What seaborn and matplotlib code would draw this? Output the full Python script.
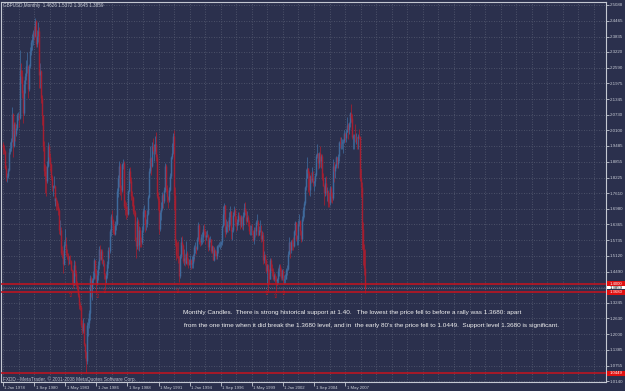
import numpy as np
import pandas as pd
import matplotlib
matplotlib.use("Agg")
import matplotlib.pyplot as plt
import matplotlib.transforms as mtrans
from matplotlib.patches import Rectangle
import seaborn as sns

# ---------------- data ----------------
title_text = "GBPUSD,Monthly  1.4626 1.5372 1.3645 1.3859"
first_open = 1.9550

close = [
    1.9400, 1.9300, 1.8620, 1.8250, 1.8280, 1.8540, 1.9250, 1.9420, 1.9700, 2.0750, 1.9500, 2.0350,
    1.9950, 2.0200, 2.0700, 2.0700, 2.0600, 2.1900, 2.2500, 2.2250, 2.1600, 2.0800, 2.1950, 2.2250,
    2.2650, 2.2650, 2.1750, 2.2650, 2.3250, 2.3600, 2.3750, 2.4000, 2.3850, 2.4450, 2.3550, 2.3850,
    2.4050, 2.2300, 2.2450, 2.1400, 2.0700, 1.9500, 1.8500, 1.8300, 1.8100, 1.8700, 1.9500, 1.9050,
    1.8750, 1.8250, 1.7850, 1.7900, 1.7900, 1.7300, 1.7400, 1.7300, 1.7100, 1.6950, 1.6150, 1.6150,
    1.5250, 1.5200, 1.4800, 1.5550, 1.5600, 1.5250, 1.5150, 1.4950, 1.4950, 1.4900, 1.4550, 1.4500,
    1.3950, 1.4750, 1.4450, 1.3950, 1.3850, 1.3550, 1.3150, 1.3100, 1.2350, 1.2150, 1.2450, 1.1600,
    1.1300, 1.0950, 1.2350, 1.2450, 1.2850, 1.2850, 1.4250, 1.3850, 1.4150, 1.4250, 1.4950, 1.4450,
    1.3990, 1.4350, 1.4750, 1.5400, 1.5000, 1.5300, 1.4850, 1.4850, 1.4400, 1.4200, 1.4350, 1.4800,
    1.5350, 1.5300, 1.6100, 1.6700, 1.6550, 1.6050, 1.6000, 1.6350, 1.6400, 1.7700, 1.8200, 1.8700,
    1.7800, 1.7750, 1.8750, 1.8800, 1.8550, 1.7100, 1.7050, 1.6900, 1.6800, 1.7700, 1.8500, 1.8100,
    1.7500, 1.7450, 1.6900, 1.6850, 1.5750, 1.5500, 1.6500, 1.5550, 1.6150, 1.5800, 1.5650, 1.6150,
    1.6900, 1.6950, 1.6400, 1.6400, 1.6800, 1.7450, 1.8500, 1.9000, 1.8700, 1.9500, 1.9300, 1.9300,
    1.9550, 1.9050, 1.7500, 1.7350, 1.7150, 1.6200, 1.6850, 1.7000, 1.7550, 1.7300, 1.7750, 1.8700,
    1.7800, 1.7450, 1.7350, 1.7750, 1.8300, 1.9050, 1.9200, 1.9900, 1.7550, 1.5750, 1.5150, 1.5130,
    1.5050, 1.4300, 1.5100, 1.5650, 1.5550, 1.4900, 1.5050, 1.4850, 1.5250, 1.4900, 1.4800, 1.4800,
    1.4950, 1.4800, 1.4850, 1.5150, 1.5100, 1.5450, 1.5450, 1.5400, 1.5800, 1.6350, 1.5700, 1.5650,
    1.5850, 1.5850, 1.6200, 1.6100, 1.5850, 1.5950, 1.5950, 1.5450, 1.5800, 1.5800, 1.5300, 1.5500,
    1.4950, 1.5350, 1.5250, 1.5100, 1.5500, 1.5500, 1.5550, 1.5600, 1.5650, 1.6300, 1.6800, 1.7150,
    1.6050, 1.6300, 1.6400, 1.6250, 1.6400, 1.6650, 1.6900, 1.6100, 1.6150, 1.6750, 1.6950, 1.6450,
    1.6350, 1.6450, 1.6750, 1.6700, 1.6350, 1.6650, 1.6350, 1.6750, 1.7000, 1.6850, 1.6500, 1.6650,
    1.6450, 1.6100, 1.6100, 1.6100, 1.6050, 1.5750, 1.6150, 1.6100, 1.6450, 1.6450, 1.5950, 1.6150,
    1.6150, 1.5800, 1.5950, 1.5600, 1.4950, 1.5150, 1.4950, 1.4500, 1.4750, 1.4500, 1.4200, 1.4950,
    1.4650, 1.4500, 1.4200, 1.4350, 1.4150, 1.4100, 1.4200, 1.4500, 1.4700, 1.4500, 1.4250, 1.4550,
    1.4150, 1.4200, 1.4200, 1.4550, 1.4600, 1.5200, 1.5650, 1.5350, 1.5700, 1.5650, 1.5500, 1.6100,
    1.6450, 1.5800, 1.5800, 1.5950, 1.6400, 1.6500, 1.6100, 1.5800, 1.6600, 1.6950, 1.7200, 1.7850,
    1.8200, 1.8600, 1.8400, 1.7750, 1.8300, 1.8150, 1.8200, 1.8000, 1.8100, 1.8350, 1.9100, 1.9200,
    1.8800, 1.9200, 1.8900, 1.9100, 1.8200, 1.7900, 1.7600, 1.8000, 1.7650, 1.7700, 1.7250, 1.7200,
    1.7800, 1.7500, 1.7400, 1.8250, 1.8700, 1.8500, 1.8700, 1.9050, 1.8750, 1.9100, 1.9650, 1.9600,
    1.9600, 1.9650, 1.9700, 1.9990, 1.9800, 2.0050, 2.0300, 2.0100, 2.0400, 2.0800, 2.0600, 1.9850,
    1.9900, 1.9900, 1.9850, 1.9850, 1.9800, 1.9900, 1.9850, 1.8200, 1.7850, 1.6200, 1.5350, 1.4626,
    1.3859,
]

high = [
    1.9650, 1.9520, 1.9340, 1.8720, 1.8400, 1.8600, 1.9400, 1.9650, 1.9820, 2.1050, 2.0800, 2.0450,
    2.0450, 2.0350, 2.0800, 2.0850, 2.0800, 2.2000, 2.3300, 2.2800, 2.2500, 2.1700, 2.2100, 2.2400,
    2.2900, 2.3200, 2.2700, 2.2750, 2.3400, 2.3700, 2.3950, 2.4100, 2.4250, 2.4565, 2.4500, 2.4100,
    2.4400, 2.4200, 2.2800, 2.2500, 2.1500, 2.0700, 1.9700, 1.8750, 1.8700, 1.8900, 1.9650, 1.9550,
    1.9200, 1.8800, 1.8350, 1.7950, 1.8300, 1.7950, 1.7500, 1.7450, 1.7350, 1.7200, 1.7000, 1.6550,
    1.6250, 1.5500, 1.5350, 1.5700, 1.6200, 1.5850, 1.5400, 1.5250, 1.5100, 1.5150, 1.4950, 1.4600,
    1.4550, 1.4950, 1.4900, 1.4550, 1.4100, 1.3950, 1.3650, 1.3300, 1.3150, 1.2550, 1.2650, 1.2450,
    1.1650, 1.1350, 1.2500, 1.2650, 1.2950, 1.3050, 1.4350, 1.4300, 1.4250, 1.4500, 1.5050, 1.4950,
    1.4600, 1.4550, 1.4900, 1.5500, 1.5550, 1.5400, 1.5400, 1.5000, 1.4950, 1.4450, 1.4500, 1.4900,
    1.5450, 1.5450, 1.6200, 1.6800, 1.6950, 1.6600, 1.6350, 1.6500, 1.6750, 1.7800, 1.8350, 1.8900,
    1.8800, 1.7950, 1.8800, 1.8950, 1.8900, 1.8600, 1.7350, 1.7250, 1.7100, 1.7750, 1.8600, 1.8650,
    1.8250, 1.7700, 1.7500, 1.7150, 1.6950, 1.5850, 1.6650, 1.6600, 1.6300, 1.6250, 1.5850, 1.6300,
    1.7000, 1.7150, 1.6950, 1.6600, 1.6950, 1.7550, 1.8600, 1.9500, 1.9050, 1.9650, 1.9800, 1.9550,
    1.9900, 2.0050, 1.9150, 1.7650, 1.7450, 1.7200, 1.6950, 1.7250, 1.7650, 1.7600, 1.7850, 1.8800,
    1.8750, 1.7950, 1.7500, 1.7850, 1.8400, 1.9100, 1.9600, 2.0000, 2.0100, 1.7850, 1.5800, 1.5650,
    1.5700, 1.5100, 1.5200, 1.5850, 1.5900, 1.5600, 1.5400, 1.5200, 1.5700, 1.5300, 1.5050, 1.5000,
    1.5150, 1.5000, 1.5100, 1.5200, 1.5250, 1.5550, 1.5650, 1.5500, 1.5850, 1.6450, 1.6400, 1.5800,
    1.6000, 1.6050, 1.6350, 1.6400, 1.6150, 1.6100, 1.6150, 1.6000, 1.5850, 1.5900, 1.5800, 1.5550,
    1.5500, 1.5450, 1.5400, 1.5300, 1.5550, 1.5600, 1.5650, 1.5700, 1.5700, 1.6350, 1.7100, 1.7200,
    1.7150, 1.6600, 1.6500, 1.6550, 1.6650, 1.6850, 1.7100, 1.6900, 1.6250, 1.6850, 1.7100, 1.7000,
    1.6700, 1.6600, 1.6850, 1.6850, 1.6750, 1.6750, 1.6700, 1.6850, 1.7200, 1.7250, 1.6950, 1.6900,
    1.6750, 1.6550, 1.6350, 1.6350, 1.6400, 1.6150, 1.6250, 1.6250, 1.6550, 1.6800, 1.6550, 1.6300,
    1.6550, 1.6350, 1.6100, 1.6050, 1.5650, 1.5300, 1.5200, 1.5000, 1.4800, 1.4800, 1.4600, 1.5050,
    1.5050, 1.4800, 1.4650, 1.4450, 1.4450, 1.4300, 1.4250, 1.4650, 1.4800, 1.4800, 1.4650, 1.4600,
    1.4550, 1.4350, 1.4400, 1.4650, 1.4750, 1.5300, 1.5850, 1.5650, 1.5750, 1.5800, 1.5850, 1.6150,
    1.6500, 1.6450, 1.5950, 1.6050, 1.6550, 1.6800, 1.6550, 1.6150, 1.6700, 1.7050, 1.7300, 1.7900,
    1.8550, 1.9050, 1.8600, 1.8500, 1.8350, 1.8450, 1.8650, 1.8500, 1.8150, 1.8400, 1.9150, 1.9550,
    1.9200, 1.9250, 1.9500, 1.9150, 1.9150, 1.8400, 1.7950, 1.8250, 1.8300, 1.7850, 1.7750, 1.7600,
    1.7900, 1.7900, 1.7650, 1.8300, 1.8950, 1.8850, 1.8750, 1.9100, 1.9050, 1.9150, 1.9700, 1.9850,
    1.9850, 1.9750, 1.9750, 2.0100, 2.0000, 2.0150, 2.0650, 2.0400, 2.0450, 2.0850, 2.1150, 2.0750,
    1.9950, 1.9950, 2.0350, 2.0000, 1.9850, 1.9950, 2.0150, 1.9900, 1.8550, 1.8050, 1.6450, 1.5600,
    1.5372,
]

low = [
    1.9150, 1.9180, 1.8550, 1.8080, 1.8050, 1.8200, 1.8500, 1.9150, 1.9300, 1.9650, 1.9050, 1.9450,
    1.9700, 1.9900, 2.0100, 2.0500, 2.0250, 2.0550, 2.1850, 2.2000, 2.1400, 2.0400, 2.0700, 2.1600,
    2.2100, 2.2400, 2.1400, 2.1650, 2.2600, 2.3100, 2.3300, 2.3500, 2.3700, 2.3800, 2.3400, 2.3400,
    2.3600, 2.1800, 2.1800, 2.1200, 2.0300, 1.9300, 1.8300, 1.7600, 1.7500, 1.8000, 1.8650, 1.8800,
    1.8500, 1.8150, 1.7700, 1.7500, 1.7800, 1.7150, 1.7100, 1.6950, 1.6950, 1.6750, 1.6000, 1.5950,
    1.5150, 1.5050, 1.4450, 1.4750, 1.5500, 1.5100, 1.5000, 1.4750, 1.4800, 1.4800, 1.4500, 1.4050,
    1.3850, 1.3950, 1.4300, 1.3900, 1.3750, 1.3500, 1.3000, 1.2950, 1.2300, 1.2000, 1.2050, 1.1550,
    1.1050, 1.0449, 1.0800, 1.1950, 1.2250, 1.2550, 1.2800, 1.3500, 1.3350, 1.4000, 1.4200, 1.4200,
    1.3650, 1.3950, 1.4150, 1.4600, 1.4950, 1.4950, 1.4800, 1.4700, 1.4200, 1.3800, 1.4050, 1.4250,
    1.4650, 1.5050, 1.5250, 1.5900, 1.6350, 1.6000, 1.5950, 1.5950, 1.6150, 1.6350, 1.7450, 1.7850,
    1.7550, 1.7350, 1.7650, 1.8550, 1.8200, 1.7000, 1.6750, 1.6600, 1.6650, 1.6750, 1.7650, 1.8000,
    1.7350, 1.7100, 1.6800, 1.6700, 1.5700, 1.5050, 1.5400, 1.5350, 1.5300, 1.5450, 1.5450, 1.5600,
    1.6050, 1.6650, 1.6050, 1.6150, 1.6250, 1.6750, 1.7400, 1.8400, 1.8350, 1.8650, 1.9150, 1.8900,
    1.9150, 1.8900, 1.7400, 1.6950, 1.6950, 1.6000, 1.6100, 1.6550, 1.6950, 1.7000, 1.7200, 1.7650,
    1.7650, 1.7250, 1.7000, 1.7250, 1.7700, 1.8200, 1.8950, 1.9150, 1.6950, 1.5500, 1.4950, 1.5050,
    1.4850, 1.4080, 1.4250, 1.5050, 1.5200, 1.4850, 1.4750, 1.4700, 1.4800, 1.4750, 1.4650, 1.4750,
    1.4650, 1.4600, 1.4650, 1.4650, 1.4900, 1.5000, 1.5250, 1.5200, 1.5350, 1.5700, 1.5600, 1.5500,
    1.5550, 1.5600, 1.5650, 1.5950, 1.5600, 1.5750, 1.5850, 1.5300, 1.5350, 1.5650, 1.5250, 1.5250,
    1.4950, 1.4900, 1.5100, 1.5000, 1.5000, 1.5250, 1.5450, 1.5400, 1.5450, 1.5550, 1.6250, 1.6350,
    1.5850, 1.6000, 1.6050, 1.6050, 1.6150, 1.6150, 1.6350, 1.5800, 1.5750, 1.6050, 1.6700, 1.6300,
    1.6100, 1.6150, 1.6350, 1.6500, 1.6200, 1.6250, 1.6200, 1.6150, 1.6650, 1.6750, 1.6400, 1.6450,
    1.6300, 1.6000, 1.5950, 1.5950, 1.5950, 1.5700, 1.5600, 1.5850, 1.5950, 1.6350, 1.5900, 1.5950,
    1.6050, 1.5650, 1.5700, 1.5500, 1.4800, 1.4850, 1.4750, 1.4450, 1.3950, 1.3680, 1.3980, 1.4200,
    1.4500, 1.4300, 1.4150, 1.4100, 1.4050, 1.3686, 1.3950, 1.4050, 1.4300, 1.4300, 1.4150, 1.4150,
    1.4050, 1.4000, 1.4050, 1.4200, 1.4350, 1.4550, 1.5150, 1.5050, 1.5250, 1.5350, 1.5350, 1.5450,
    1.5950, 1.5700, 1.5550, 1.5550, 1.5900, 1.6300, 1.5950, 1.5650, 1.5700, 1.6500, 1.6650, 1.7150,
    1.7750, 1.8200, 1.7650, 1.7550, 1.7500, 1.8000, 1.8050, 1.7900, 1.7700, 1.7900, 1.8300, 1.9000,
    1.8550, 1.8600, 1.8650, 1.8600, 1.8150, 1.7900, 1.7150, 1.7500, 1.7550, 1.7300, 1.7050, 1.7050,
    1.7150, 1.7250, 1.7200, 1.7350, 1.8150, 1.8050, 1.8200, 1.8600, 1.8600, 1.8600, 1.8900, 1.9400,
    1.9350, 1.9350, 1.9200, 1.9600, 1.9650, 1.9650, 2.0050, 1.9750, 1.9950, 2.0250, 2.0450, 1.9750,
    1.9350, 1.9350, 1.9650, 1.9550, 1.9350, 1.9350, 1.9750, 1.8100, 1.7450, 1.5400, 1.4750, 1.4350,
    1.3645,
]

support_levels = [1.4000, 1.3680]
crash_low_level = 1.0449
bid_price = 1.3859

price_ticks = [2.5088, 2.4465, 2.3835, 2.3220, 2.2590, 2.1975, 2.1345, 2.0730, 2.0100,
               1.9485, 1.8855, 1.8225, 1.7610, 1.6980, 1.6365, 1.5735, 1.5120, 1.4490,
               1.3875, 1.3245, 1.2630, 1.2000, 1.1385, 1.0755, 1.0140]
price_tick_labels = ["2.5088", "2.4465", "2.3835", "2.3220", "2.2590", "2.1975", "2.1345",
                     "2.0730", "2.0100", "1.9485", "1.8855", "1.8225", "1.7610", "1.6980",
                     "1.6365", "1.5735", "1.5120", "1.4490", "", "1.3245", "1.2630",
                     "1.2000", "1.1385", "1.0755", "1.0140"]

date_labels = ["1 Jan 1978", "1 Sep 1980", "1 May 1983", "1 Jan 1986", "1 Sep 1988",
               "1 May 1991", "1 Jan 1994", "1 Sep 1996", "1 May 1999", "1 Jan 2002",
               "1 Sep 2004", "1 May 2007"]
date_label_bars = [0, 32, 64, 96, 128, 160, 192, 224, 256, 288, 320, 352]
grid_bars = list(range(0, 621, 16))

arrow_bars = [70, 97, 105, 180, 271, 280, 289]
arrow_prices = [1.356, 1.349, 1.369, 1.369, 1.363, 1.349, 1.363]

note_line1 = ("Monthly Candles.  There is strong historical support at 1.40.   "
              "The lowest the price fell to before a rally was 1.3680: apart")
note_line2 = ("from the one time when it did break the 1.3680 level, and in  the early 80's "
              "the price fell to 1.0449.  Support level 1.3680 is significant.")
footer_text = "FXDD - MetaTrader, \u00a9 2001-2008 MetaQuotes Software Corp."

# ---------------- style ----------------
BG = "#2B304D"
GRID = "#575D73"
AXC = "#C4C8D2"
TXT = "#C8CCD6"
UP = "#3F6A9C"
DOWN = "#A61E30"
LINE_RED = "#C8121E"

sns.set_theme(style="dark", rc={"axes.facecolor": BG, "figure.facecolor": BG})
plt.rcParams["font.family"] = ["Liberation Sans", "DejaVu Sans"]

opens = [first_open] + close[:-1]
df = pd.DataFrame({"bar": np.arange(len(close)), "open": opens, "high": high,
                   "low": low, "close": close})
df["color"] = np.where(df["close"] >= df["open"], UP, DOWN)
df["body_lo"] = df[["open", "close"]].min(axis=1)
df["body_hi"] = df[["open", "close"]].max(axis=1)

W, H = 625, 391
fig = plt.figure(figsize=(W / 100, H / 100), dpi=100, facecolor=BG)
ax = fig.add_axes([1 / W, (H - 382) / H, 605 / W, 380 / H])
ax.set_facecolor(BG)

px_per_bar = 0.972
ax.set_xlim((1 - 3) / px_per_bar, (606 - 3) / px_per_bar)
ax.set_ylim(1.0104, 2.5207)

# grid
ax.set_yticks(price_ticks)
ax.set_yticklabels(price_tick_labels)
ax.set_xticks(date_label_bars)
ax.set_xticklabels(date_labels)
ax.set_xticks(grid_bars, minor=True)
ax.xaxis.remove_overlapping_locs = False
ax.grid(False)
ax.xaxis.grid(True, which="minor", color=GRID, lw=0.6, ls=(0, (1, 2)))
ax.yaxis.grid(True, which="major", color=GRID, lw=0.6, ls=(0, (1, 2)))
ax.set_axisbelow(True)

# candles
ax.vlines(df["bar"], df["low"], df["high"], colors=df["color"], lw=0.55, zorder=3)
ax.vlines(df["bar"], df["body_lo"], df["body_hi"], colors=df["color"], lw=1.05, zorder=3)

# horizontal levels
ax.axhline(bid_price, color="#7E8396", lw=0.6, ls=(0, (1, 1.5)), zorder=2)
for lv in support_levels:
    ax.axhline(lv, color=LINE_RED, lw=1.1, zorder=4)
ax.axhline(crash_low_level, color=LINE_RED, lw=1.1, zorder=4)

# arrows
for b, p in zip(arrow_bars, arrow_prices):
    ax.text(b, p, "\u21e7", color="#D01822", fontsize=4.6, ha="center", va="center",
            family="DejaVu Sans", zorder=5)

# spines and ticks
for s in ax.spines.values():
    s.set_color(AXC)
    s.set_linewidth(0.8)
    s.set_visible(True)
ax.yaxis.tick_right()
ax.tick_params(axis="y", which="major", right=True, left=False, length=2.2, width=0.6,
               color=AXC, labelsize=3.2, labelcolor=TXT, pad=0.6)
ax.tick_params(axis="x", which="major", bottom=True, length=2.6, width=0.6,
               color=AXC, labelsize=3.1, labelcolor=TXT, pad=0.3)
ax.tick_params(axis="x", which="minor", length=0)
offset = mtrans.ScaledTranslation(1.5 / 100, 0, fig.dpi_scale_trans)
for lab in ax.get_xticklabels():
    lab.set_horizontalalignment("left")
    lab.set_transform(lab.get_transform() + offset)

# price boxes on the right axis
btrans = mtrans.blended_transform_factory(ax.transAxes, ax.transData)
unit_per_px = (2.5207 - 1.0104) / 380
box_x0 = 1.0012
box_w = (625 - 606) / 605
for lv, face, tcol, half in [(support_levels[0], "#E01010", "white", 2.5),
                             (support_levels[1], "#E01010", "white", 2.5),
                             (crash_low_level, "#E01010", "white", 2.6),
                             (bid_price, "white", "black", 1.8)]:
    ax.add_patch(Rectangle((box_x0, lv - half * unit_per_px), box_w, 2 * half * unit_per_px,
                           transform=btrans, facecolor=face, edgecolor="none",
                           clip_on=False, zorder=6))
    ax.text(1.0055, lv, f"{lv:.4f}", transform=btrans, color=tcol, fontsize=3.1,
            ha="left", va="center", clip_on=False, zorder=7)

# texts
ax.text((3 - 1) / 605, (382 - 5) / 380, title_text, transform=ax.transAxes,
        fontsize=3.3, color=TXT, ha="left", va="center")
ax.text((3 - 1) / 605, (382 - 379) / 380, footer_text, transform=ax.transAxes,
        fontsize=3.45, color="#B8BCC8", ha="left", va="center")
ax.text((183 - 1) / 605, (382 - 312.7) / 380, note_line1, transform=ax.transAxes,
        fontsize=4.55, color="#F0F0F0", ha="left", va="center", zorder=6)
ax.text((184.5 - 1) / 605, (382 - 326) / 380, note_line2, transform=ax.transAxes,
        fontsize=4.55, color="#F0F0F0", ha="left", va="center", zorder=6)

fig.savefig("out.png", dpi=100, facecolor=BG)
